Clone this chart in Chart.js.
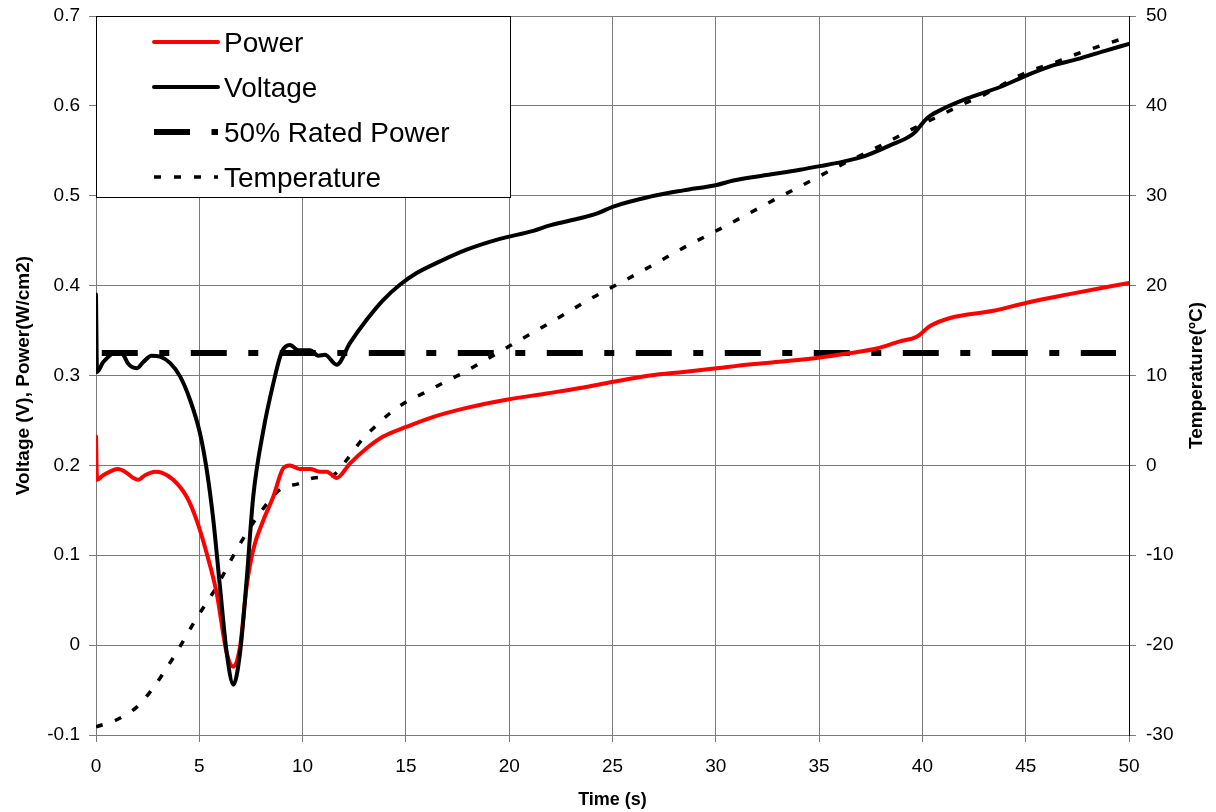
<!DOCTYPE html>
<html>
<head>
<meta charset="utf-8">
<title>Voltage, power and temperature vs time</title>
<script src="https://cdn.jsdelivr.net/npm/chart.js@4.4.1/dist/chart.umd.min.js"></script>
<style>
  html, body { margin: 0; padding: 0; background: #fff; }
  canvas { display: block; }
</style>
</head>
<body>
<canvas id="chart" width="1216" height="812"></canvas>
<script>
// values (time in s)
const voltageTime = [0, 0.05, 0.35, 1.0, 1.32, 1.56, 1.97, 2.29, 2.69, 3.1, 3.58, 4.07, 4.55, 5.03, 5.36, 5.68, 6.0, 6.33, 6.65, 6.97, 7.29, 7.61, 8.1, 8.58, 8.99, 9.39, 9.79, 10.36, 10.76, 11.08, 11.65, 12.29, 13.1, 13.9, 14.71, 15.52, 16.65, 17.94, 19.55, 21.17, 21.97, 23.43, 24.23, 25.04, 26.82, 28.43, 30.04, 30.85, 32.46, 34.08, 35.04, 36.17, 37.3, 38.43, 39.56, 39.88, 40.21, 40.85, 42.14, 43.76, 45.05, 46.18, 47.5, 48.8, 50];
const voltage = [0.39, 0.304, 0.315, 0.326, 0.323, 0.313, 0.308, 0.315, 0.322, 0.321, 0.314, 0.299, 0.273, 0.236, 0.195, 0.139, 0.065, -0.009, -0.044, -0.009, 0.072, 0.165, 0.239, 0.291, 0.326, 0.334, 0.328, 0.328, 0.322, 0.323, 0.312, 0.336, 0.362, 0.384, 0.401, 0.414, 0.427, 0.440, 0.452, 0.461, 0.467, 0.475, 0.480, 0.488, 0.499, 0.506, 0.512, 0.517, 0.523, 0.529, 0.533, 0.538, 0.545, 0.556, 0.569, 0.577, 0.586, 0.595, 0.608, 0.621, 0.634, 0.644, 0.652, 0.661, 0.669];

const powerTime = [0, 0.05, 0.35, 1.08, 1.4, 1.81, 2.05, 2.37, 2.86, 3.18, 3.74, 4.39, 4.87, 5.36, 5.84, 6.33, 6.65, 6.97, 7.29, 7.61, 8.1, 8.58, 9.07, 9.39, 9.87, 10.36, 10.84, 11.17, 11.65, 12.29, 13.1, 13.9, 15.04, 16.33, 17.94, 19.87, 21.8, 23.43, 25.04, 26.82, 28.43, 30.04, 31.5, 32.46, 35.04, 36.5, 37.79, 38.91, 39.72, 40.37, 41.34, 43.43, 45.05, 46.98, 50];
const power = [0.232, 0.184, 0.189, 0.196, 0.193, 0.186, 0.184, 0.189, 0.193, 0.192, 0.184, 0.165, 0.139, 0.102, 0.058, -0.009, -0.024, -0.002, 0.065, 0.106, 0.139, 0.165, 0.197, 0.200, 0.196, 0.196, 0.193, 0.193, 0.186, 0.202, 0.219, 0.232, 0.243, 0.254, 0.264, 0.273, 0.280, 0.286, 0.293, 0.300, 0.304, 0.308, 0.312, 0.314, 0.320, 0.325, 0.330, 0.338, 0.343, 0.355, 0.364, 0.372, 0.381, 0.390, 0.403];

const ratedTime = [0.28, 49.37];
const ratedPower = [0.325, 0.325];

const tempTime = [0, 1.0, 1.97, 2.69, 3.82, 4.87, 5.84, 6.89, 7.94, 8.9, 9.87, 10.52, 11.49, 12.13, 12.78, 13.5, 14.23, 15.04, 16.0, 16.9, 17.78, 18.67, 19.55, 20.52, 21.4, 22.22, 23.99, 24.88, 26.65, 28.43, 30.28, 32.06, 32.95, 34.72, 35.61, 37.46, 38.43, 39.32, 41.09, 42.06, 42.95, 44.0, 45.0, 46.5, 47.5, 48.5, 50];
const temperature = [-29.1, -28.3, -26.9, -25.0, -21.1, -17.0, -13.5, -9.05, -5.3, -2.7, -2.0, -1.4, -1.07, 0.6, 2.6, 4.3, 5.8, 7.1, 8.2, 9.3, 10.3, 11.5, 12.65, 13.95, 15.1, 16.2, 18.6, 19.7, 21.9, 24.2, 26.4, 28.6, 29.7, 31.8, 32.9, 35.0, 36.1, 37.2, 39.2, 40.3, 41.2, 42.5, 43.7, 44.9, 45.8, 46.6, 47.7];

const xTitle = 'Time (s)';
const leftTitle = 'Voltage (V), Power(W/cm2)';
const rightTitle = 'Temperature(\u00BAC)';

const pts = (xs, ys) => xs.map((x, i) => ({x: x, y: ys[i]}));

const FONT = "'Liberation Sans', Arial, Helvetica, sans-serif";
Chart.defaults.font.family = FONT;
Chart.defaults.color = '#000';

// legend box in the top-left of the plot, like the excel one
const boxLegend = {
  id: 'boxLegend',
  afterDatasetsDraw(chart) {
    const {ctx, chartArea} = chart;
    const x0 = chartArea.left, y0 = chartArea.top;
    ctx.save();
    ctx.fillStyle = '#fff';
    ctx.fillRect(x0, y0, 414, 181);
    ctx.strokeStyle = '#000';
    ctx.lineWidth = 1;
    ctx.strokeRect(x0 + 0.5, y0 + 0.5, 414, 181);
    const order = [1, 0, 2, 3]; // power, voltage, rated, temperature
    ctx.font = '28px ' + FONT;
    ctx.textBaseline = 'alphabetic';
    order.forEach((di, row) => {
      const ds = chart.data.datasets[di];
      const base = y0 + 36 + row * 45;
      ctx.beginPath();
      ctx.strokeStyle = ds.borderColor;
      ctx.lineWidth = ds.borderWidth;
      ctx.setLineDash(ds.borderDash || []);
      ctx.lineCap = ds.borderDash ? 'butt' : 'round';
      ctx.moveTo(x0 + 58, base - 10);
      ctx.lineTo(x0 + 122, base - 10);
      ctx.stroke();
      ctx.setLineDash([]);
      ctx.fillStyle = '#000';
      ctx.fillText(ds.label, x0 + 128, base);
    });
    ctx.restore();
  }
};

// right title reads bottom to top, chart.js would turn it the other way
const rightAxisTitle = {
  id: 'rightAxisTitle',
  afterDraw(chart) {
    const {ctx, chartArea} = chart;
    const s = chart.scales.y1;
    ctx.save();
    ctx.translate(s.right - 19, (chartArea.top + chartArea.bottom) / 2);
    ctx.rotate(-Math.PI / 2);
    ctx.font = 'bold 19px ' + FONT;
    ctx.fillStyle = '#000';
    ctx.textAlign = 'center';
    ctx.textBaseline = 'middle';
    ctx.fillText(rightTitle, 0, 0);
    ctx.restore();
  }
};

const gridColor = '#7a7a7a';
const tickFont = {size: 19};
const fmt = v => (Math.abs(v) < 1e-9 ? '0' : String(+v.toFixed(1)));

// fixed axis sizes so the plot area sits where the original's does
const fixVertical = w => s => { s.width = w; s.paddingTop = 0; s.paddingBottom = 0; };
const fixHorizontal = h => s => { s.height = h; s.paddingLeft = 0; s.paddingRight = 0; };

new Chart(document.getElementById('chart'), {
  type: 'line',
  data: {
    datasets: [
      {
        label: 'Voltage',
        data: pts(voltageTime, voltage),
        borderColor: '#000',
        borderWidth: 4,
        borderJoinStyle: 'round',
        borderCapStyle: 'round',
        cubicInterpolationMode: 'monotone',
        yAxisID: 'y'
      },
      {
        label: 'Power',
        data: pts(powerTime, power),
        borderColor: '#ff0000',
        borderWidth: 4,
        borderJoinStyle: 'round',
        borderCapStyle: 'round',
        cubicInterpolationMode: 'monotone',
        yAxisID: 'y'
      },
      {
        label: '50% Rated Power',
        data: pts(ratedTime, ratedPower),
        borderColor: '#000',
        borderWidth: 6,
        borderDash: [36, 21.5, 10, 21.5],
        yAxisID: 'y'
      },
      {
        label: 'Temperature',
        data: pts(tempTime, temperature),
        borderColor: '#000',
        borderWidth: 3.5,
        borderDash: [7, 13],
        cubicInterpolationMode: 'monotone',
        yAxisID: 'y1'
      }
    ]
  },
  options: {
    responsive: false,
    animation: false,
    layout: {padding: {top: 16, left: 0, right: 0, bottom: 0}},
    elements: {point: {radius: 0}, line: {tension: 0, fill: false}},
    plugins: {legend: {display: false}, tooltip: {enabled: false}},
    scales: {
      x: {
        type: 'linear',
        min: 0,
        max: 50,
        ticks: {stepSize: 5, font: tickFont, padding: 13, maxRotation: 0},
        grid: {color: gridColor, tickLength: 7, lineWidth: 1},
        border: {color: gridColor},
        title: {display: true, text: xTitle, font: {size: 18, weight: 'bold'}, padding: {top: 0, bottom: 1}},
        afterFit: fixHorizontal(77)
      },
      y: {
        position: 'left',
        min: -0.1,
        max: 0.7,
        ticks: {stepSize: 0.1, font: tickFont, padding: 9, callback: fmt},
        grid: {color: gridColor, tickLength: 7, lineWidth: 1},
        border: {color: gridColor},
        title: {display: true, text: leftTitle, font: {size: 19, weight: 'bold'}, padding: {top: 12, bottom: 0}},
        afterFit: fixVertical(96)
      },
      y1: {
        position: 'right',
        min: -30,
        max: 50,
        ticks: {stepSize: 10, font: tickFont, padding: 10, callback: fmt},
        grid: {drawOnChartArea: false, color: gridColor, tickLength: 7},
        border: {color: '#000'},
        afterFit: fixVertical(87)
      }
    }
  },
  plugins: [boxLegend, rightAxisTitle]
});
</script>
</body>
</html>
